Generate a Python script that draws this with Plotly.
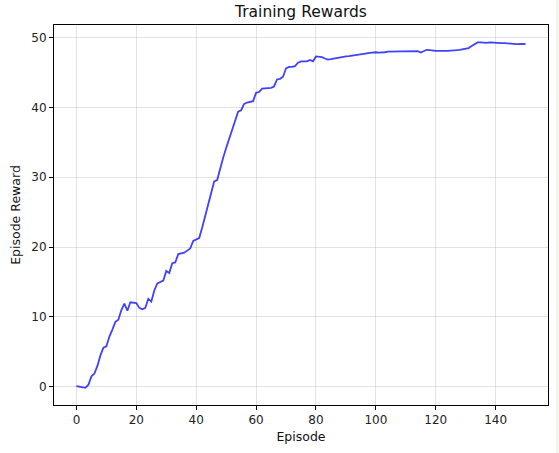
import plotly.graph_objects as go

episodes = list(range(151))
rewards = [
    0.1, 0.05, 0.0, -0.15, 0.3, 1.5, 1.9, 3.0, 4.5, 5.6,
    5.8, 7.2, 8.2, 9.3, 9.6, 11.0, 11.9, 10.9, 12.1, 12.1,
    12.0, 11.3, 11.1, 11.3, 12.6, 12.2, 13.8, 14.8, 15.0, 15.2,
    16.6, 16.3, 17.7, 17.8, 19.0, 19.1, 19.2, 19.5, 19.8, 20.9,
    21.1, 21.3, 22.8, 24.5, 26.0, 28.0, 29.4, 29.6, 31.3, 32.8,
    34.2, 35.5, 36.8, 38.1, 39.4, 39.6, 40.5, 40.7, 40.8, 40.9,
    42.1, 42.2, 42.7, 42.7, 42.8, 42.8, 43.0, 44.0, 44.1, 44.4,
    45.6, 45.8, 45.8, 45.9, 46.4, 46.6, 46.6, 46.6, 46.8, 46.6,
    47.3, 47.3, 47.2, 47.0, 46.85, 46.9, 47.0, 47.05, 47.1, 47.2,
    47.3, 47.35, 47.4, 47.5, 47.55, 47.6, 47.65, 47.75, 47.8, 47.9,
    47.9, 47.85, 47.85, 47.9, 48.0, 48.0, 48.0, 48.05, 48.05, 48.1,
    48.1, 48.1, 48.1, 48.1, 48.05, 47.85, 48.0, 48.25, 48.2, 48.1,
    48.1, 48.1, 48.05, 48.1, 48.1, 48.1, 48.15, 48.2, 48.25, 48.35,
    48.4, 48.5, 48.8, 49.05, 49.3, 49.3, 49.25, 49.25, 49.3, 49.25,
    49.3, 49.25, 49.2, 49.2, 49.2, 49.15, 49.1, 49.05, 49.1, 49.1,
    49.05,
]
x_ticks = [0, 20, 40, 60, 80, 100, 120, 140]
y_ticks = [0, 10, 20, 30, 40, 50]

FONT = "DejaVu Sans"

fig = go.Figure()
fig.add_trace(go.Scatter(
    x=episodes, y=rewards, mode="lines",
    line=dict(color="rgba(0,0,255,0.75)", width=1.8),
    showlegend=False, hoverinfo="skip",
))

axis_common = dict(
    showline=True, linecolor="black", linewidth=1, mirror=True,
    ticks="outside", ticklen=4, tickwidth=1, tickcolor="black",
    showgrid=True, gridcolor="rgba(176,176,176,0.35)", gridwidth=1,
    zeroline=False, automargin=False,
    tickfont=dict(family=FONT, size=12, color="#222"),
)

fig.update_layout(
    width=559, height=453,
    margin=dict(l=54, r=11, t=25, b=48),
    paper_bgcolor="white", plot_bgcolor="white",
    title=dict(text="Training Rewards", x=(54 + 548) / 2 / 559, xanchor="center",
               y=1 - 12 / 453, yanchor="middle", automargin=False,
               font=dict(family=FONT, size=15.5, color="#111")),
    xaxis=dict(range=[-7.5, 157.5], tickvals=x_ticks,
               title=dict(text="Episode", font=dict(family=FONT, size=12.5, color="#111"), standoff=5),
               **axis_common),
    yaxis=dict(range=[-2.6, 51.8], tickvals=y_ticks,
               title=dict(text="Episode Reward", font=dict(family=FONT, size=12.5, color="#111"), standoff=7),
               **axis_common),
    shapes=[dict(type="rect", xref="paper", yref="paper",
                 x0=(556 - 54) / 494, x1=(560 - 54) / 494, y0=-1, y1=2,
                 fillcolor="#f6f4ef", line=dict(width=0), layer="below")],
)

fig.write_html("out.html", config={"displayModeBar": False},
               post_script="document.body.style.margin='0';")
